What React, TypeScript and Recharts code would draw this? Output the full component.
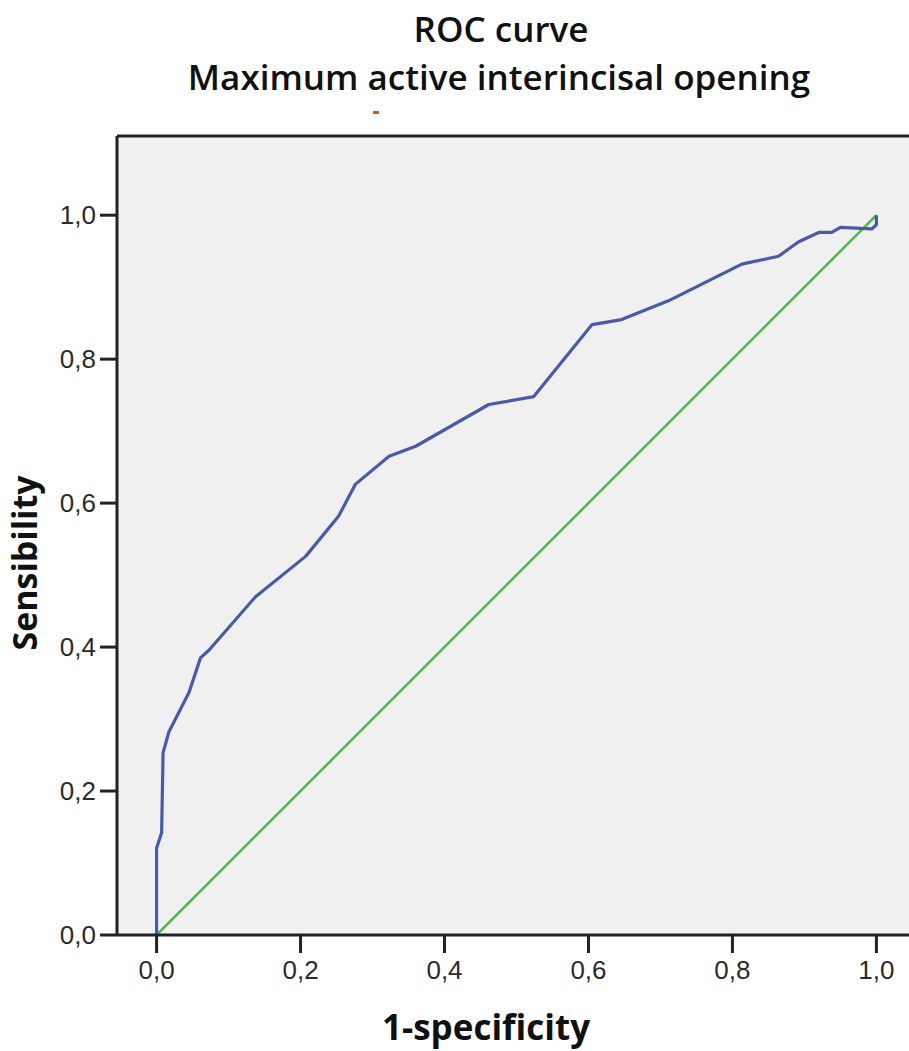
import { LineChart, Line, XAxis, YAxis, CartesianGrid, ReferenceLine } from 'recharts';

// 1 - specificity (x) and sensitivity (y)
const rocX = [
  0, 0, 0.007, 0.009, 0.017, 0.045, 0.061, 0.073, 0.1375, 0.207, 0.253, 0.276, 0.323, 0.36,
  0.4615, 0.524, 0.605, 0.646, 0.711, 0.813, 0.864, 0.892, 0.92, 0.938, 0.95, 0.994, 1.0, 1.0,
];
const rocY = [
  0, 0.121, 0.142, 0.253, 0.282, 0.337, 0.385, 0.396, 0.47, 0.526, 0.582, 0.626, 0.665, 0.679,
  0.737, 0.748, 0.848, 0.855, 0.881, 0.932, 0.943, 0.963, 0.976, 0.976, 0.983, 0.981, 0.987, 1.0,
];

// reference (chance) line
const refX = [0, 1];
const refY = [0, 1];

const xTicks = [0, 0.2, 0.4, 0.6, 0.8, 1.0];
const yTicks = [0, 0.2, 0.4, 0.6, 0.8, 1.0];

const titleLines = ['ROC curve', 'Maximum active interincisal opening'];
const xLabel = '1-specificity';
const yLabel = 'Sensibility';

const rocData = rocX.map((x, i) => ({ x, y: rocY[i] }));
const refData = refX.map((x, i) => ({ x, y: refY[i] }));

const fmt = (v: number) => v.toFixed(1).replace('.', ',');

const dark = '#222222';
const tickFont = { fontSize: 26, fontFamily: '"Liberation Sans", Arial, sans-serif', fill: '#2a2a2a' };

export default function App() {
  return (
    <div
      style={{
        position: 'absolute',
        left: 0,
        top: 0,
        width: 909,
        height: 1051,
        overflow: 'hidden',
        background: '#ffffff',
      }}
    >
      <LineChart width={916} height={1051} margin={{ top: 136, right: 0, bottom: 0, left: 0 }}>
        <CartesianGrid fill="#f0f0f0" horizontal={false} vertical={false} stroke="none" />
        <XAxis
          type="number"
          dataKey="x"
          domain={[-0.055, 1.055]}
          ticks={xTicks}
          tickFormatter={fmt}
          allowDataOverflow
          height={116}
          tickSize={18}
          tickMargin={8}
          axisLine={{ stroke: dark, strokeWidth: 3 }}
          tickLine={{ stroke: dark, strokeWidth: 3 }}
          tick={tickFont}
        />
        <YAxis
          type="number"
          dataKey="y"
          domain={[0, 1.11]}
          ticks={yTicks}
          tickFormatter={fmt}
          allowDataOverflow
          width={117}
          tickSize={17}
          tickMargin={4}
          axisLine={{ stroke: dark, strokeWidth: 3 }}
          tickLine={{ stroke: dark, strokeWidth: 3 }}
          tick={tickFont}
        />
        <ReferenceLine y={1.11} stroke={dark} strokeWidth={3} />
        <Line
          data={refData}
          dataKey="y"
          type="linear"
          stroke="#4cb84a"
          strokeWidth={2.5}
          dot={false}
          isAnimationActive={false}
        />
        <Line
          data={rocData}
          dataKey="y"
          type="linear"
          stroke="#4a5aa8"
          strokeWidth={3.2}
          strokeLinejoin="round"
          dot={false}
          isAnimationActive={false}
        />
      </LineChart>
      <svg
        width={909}
        height={1051}
        style={{ position: 'absolute', left: 0, top: 0, pointerEvents: 'none' }}
      >
        <g fontFamily='"Open Sans", sans-serif' fill="#111">
          <text x={501} y={42} textAnchor="middle" fontSize={35} fontWeight={600}>
            {titleLines[0]}
          </text>
          <text x={499} y={90} textAnchor="middle" fontSize={35} fontWeight={600}>
            {titleLines[1]}
          </text>
          <text x={486} y={1040} textAnchor="middle" fontSize={35} fontWeight={700}>
            {xLabel}
          </text>
          <text
            x={37}
            y={563}
            textAnchor="middle"
            fontSize={34}
            fontWeight={700}
            transform="rotate(-90 37 563)"
          >
            {yLabel}
          </text>
        </g>
        <rect x={373} y={111} width={6} height={3} fill="#c0601a" />
      </svg>
    </div>
  );
}
